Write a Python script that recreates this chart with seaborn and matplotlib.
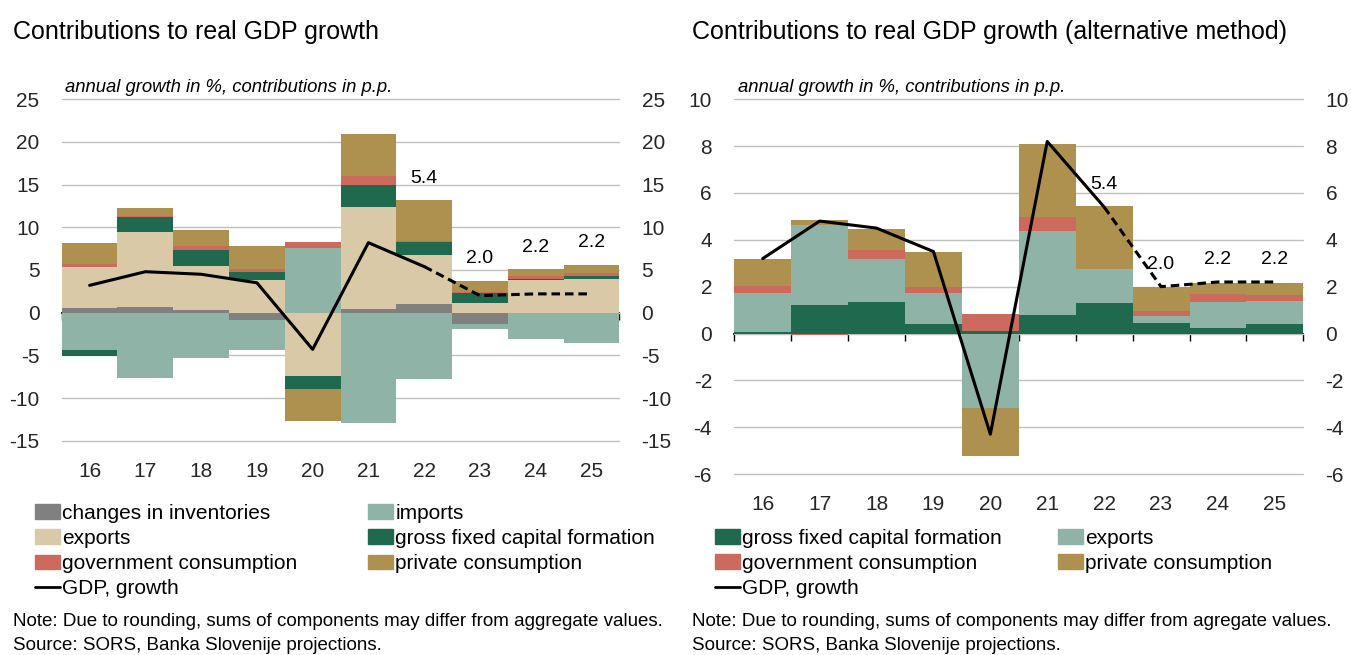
import numpy as np
import seaborn as sns
import matplotlib.pyplot as plt
from matplotlib.patches import Patch
from matplotlib.lines import Line2D

years = ['16', '17', '18', '19', '20', '21', '22', '23', '24', '25']
gdp = [3.2, 4.8, 4.5, 3.5, -4.3, 8.2, 5.4, 2.0, 2.2, 2.2]
dash_from = 6          # line is dashed from '22' onwards (projections)
labelled = [6, 7, 8, 9]

# left chart - contributions in p.p.
inventories = [0.55, 0.66, 0.27, -0.82, 0.0, 0.39, 1.05, -1.29, 0.0, 0.0]
imports = [-4.4, -7.6, -5.35, -3.6, 7.54, -12.93, -7.81, -0.59, -3.05, -3.52]
exports = [4.8, 8.79, 5.23, 3.79, -7.46, 11.99, 5.7, 1.17, 3.87, 3.9]
gfcf = [-0.66, 1.76, 1.84, 0.98, -1.52, 2.54, 1.52, 1.13, 0.05, 0.35]
gov = [0.4, 0.1, 0.5, 0.35, 0.7, 1.09, 0.15, 0.15, 0.39, 0.35]
private = [2.4, 1.0, 1.88, 2.73, -3.71, 4.96, 4.73, 1.29, 0.78, 1.02]

# right chart - alternative method
gfcf_alt = [0.07, 1.23, 1.36, 0.4, 0.1, 0.79, 1.31, 0.46, 0.24, 0.4]
exports_alt = [1.65, 3.4, 1.84, 1.33, -3.17, 3.59, 1.44, 0.27, 1.1, 1.0]
gov_alt = [0.3, -0.05, 0.37, 0.24, 0.75, 0.61, 0.0, 0.23, 0.33, 0.23]
private_alt = [1.17, 0.22, 0.9, 1.5, -2.07, 3.1, 2.68, 1.01, 0.5, 0.54]

c_inv = '#808080'
c_teal = '#8FB4A7'
c_beige = '#D9C9A6'
c_green = '#1F6A4F'
c_red = '#CC6A5D'
c_brown = '#AF914F'

sns.set_theme(style='white')
plt.rcParams['font.family'] = ['Liberation Sans', 'DejaVu Sans']
plt.rcParams['text.color'] = 'black'

fig = plt.figure(figsize=(13.51, 6.55), dpi=100)
ax1 = fig.add_axes([0.0457, 0.3272, 0.4127, 0.5212])
ax2 = fig.add_axes([0.5435, 0.2763, 0.4212, 0.5721])


def stacked(ax, series, colors):
    pos = np.zeros(len(years))
    neg = np.zeros(len(years))
    for vals, col in zip(series, colors):
        v = np.array(vals, dtype=float)
        bottom = np.where(v >= 0, pos, neg)
        sns.barplot(x=years, y=v, bottom=bottom, color=col, saturation=1,
                    width=1.0, errorbar=None, linewidth=0, ax=ax)
        pos += np.clip(v, 0, None)
        neg += np.clip(v, None, 0)
    return pos


def decorate(ax, ylim, step, tops):
    idx = np.arange(len(years))
    sns.lineplot(x=idx[:dash_from + 1], y=gdp[:dash_from + 1], color='black',
                 lw=2.2, ax=ax)
    sns.lineplot(x=idx[dash_from:], y=gdp[dash_from:], color='black', lw=2.2,
                 linestyle=(0, (2.8, 1.6)), ax=ax)
    for i in labelled:
        ax.annotate(f'{gdp[i]:.1f}', (i, max(tops[i], gdp[i])), xytext=(0, 16),
                    textcoords='offset points', ha='center', va='center',
                    fontsize=14)
    ticks = np.arange(ylim[0], ylim[1] + step, step)
    ax.set_ylim(ylim)
    ax.set_xlim(-0.5, len(years) - 0.5)
    ax.set_yticks(ticks)
    ax.set_yticklabels([f'{t:g}' for t in ticks])
    ax.set_xticks(idx)
    ax.set_xticklabels(years)
    ax.yaxis.grid(True, color='#C0C0C0', lw=1)
    for gl in ax.get_ygridlines():
        gl.set_clip_on(False)
    ax.set_axisbelow(True)
    ax.set_xlabel('')
    ax.set_ylabel('')
    for s in ax.spines.values():
        s.set_visible(False)
    ax.tick_params(axis='both', length=0, labelsize=15)
    ax.tick_params(axis='y', pad=16)
    ax.tick_params(axis='x', pad=15)
    tw = ax.twinx()
    tw.set_ylim(ylim)
    tw.set_yticks(ticks)
    tw.set_yticklabels([f'{t:g}' for t in ticks])
    tw.tick_params(length=0, labelsize=15, pad=16)
    for s in tw.spines.values():
        s.set_visible(False)
    # zero line with ticks at category boundaries
    zero = ax.secondary_xaxis(-ylim[0] / (ylim[1] - ylim[0]))
    zero.set_xticks(np.arange(len(years) + 1) - 0.5)
    zero.tick_params(direction='out', length=5, width=1, color='black',
                     labelbottom=False, labeltop=False)
    zero.spines['bottom'].set_color('black')
    zero.spines['bottom'].set_linewidth(1.3)
    zero.spines['top'].set_visible(False)
    ax.text(0.006, 1.01, 'annual growth in %, contributions in p.p.',
            transform=ax.transAxes, style='italic', fontsize=13.3,
            ha='left', va='bottom')


tops1 = stacked(ax1, [inventories, imports, exports, gfcf, gov, private],
                [c_inv, c_teal, c_beige, c_green, c_red, c_brown])
decorate(ax1, (-15, 25), 5, tops1)

tops2 = stacked(ax2, [gfcf_alt, exports_alt, gov_alt, private_alt],
                [c_green, c_teal, c_red, c_brown])
decorate(ax2, (-6, 10), 2, tops2)

fig.text(0.0096, 1 - 32 / 655, 'Contributions to real GDP growth',
         fontsize=18, va='center', ha='left')
fig.text(0.5122, 1 - 32 / 655,
         'Contributions to real GDP growth (alternative method)',
         fontsize=18, va='center', ha='left')

gdp_handle = Line2D([], [], color='black', lw=2)
h1 = [Patch(color=c_inv), Patch(color=c_teal), Patch(color=c_beige),
      Patch(color=c_green), Patch(color=c_red), Patch(color=c_brown), gdp_handle]
l1 = ['changes in inventories', 'imports', 'exports',
      'gross fixed capital formation', 'government consumption',
      'private consumption', 'GDP, growth']
# matplotlib fills legend columns top-down, reorder for row-wise reading
order1 = [0, 2, 4, 6, 1, 3, 5]
fig.legend([h1[i] for i in order1], [l1[i] for i in order1], ncol=2,
           loc='upper left', bbox_to_anchor=(0.026, 1 - 504 / 655),
           frameon=False, fontsize=15, handlelength=1.2, handletextpad=0.1,
           labelspacing=0.29, columnspacing=3.4, borderaxespad=0, borderpad=0)

h2 = [Patch(color=c_green), Patch(color=c_teal), Patch(color=c_red),
      Patch(color=c_brown), gdp_handle]
l2 = ['gross fixed capital formation', 'exports', 'government consumption',
      'private consumption', 'GDP, growth']
order2 = [0, 2, 4, 1, 3]
fig.legend([h2[i] for i in order2], [l2[i] for i in order2], ncol=2,
           loc='upper left', bbox_to_anchor=(0.529, 1 - 529 / 655),
           frameon=False, fontsize=15, handlelength=1.2, handletextpad=0.1,
           labelspacing=0.29, columnspacing=2.7, borderaxespad=0, borderpad=0)

note1 = 'Note: Due to rounding, sums of components may differ from aggregate values.'
note2 = 'Note: Due to rounding, sums of components may differ from agregate values.'
source = 'Source: SORS, Banka Slovenije projections.'
fig.text(0.0096, 1 - 621 / 655, note1, fontsize=13.5, va='center', ha='left')
fig.text(0.0096, 1 - 645 / 655, source, fontsize=13.5, va='center', ha='left')
fig.text(0.5122, 1 - 621 / 655, note2, fontsize=13.5, va='center', ha='left')
fig.text(0.5122, 1 - 645 / 655, source, fontsize=13.5, va='center', ha='left')

fig.savefig('out.png', dpi=100)
